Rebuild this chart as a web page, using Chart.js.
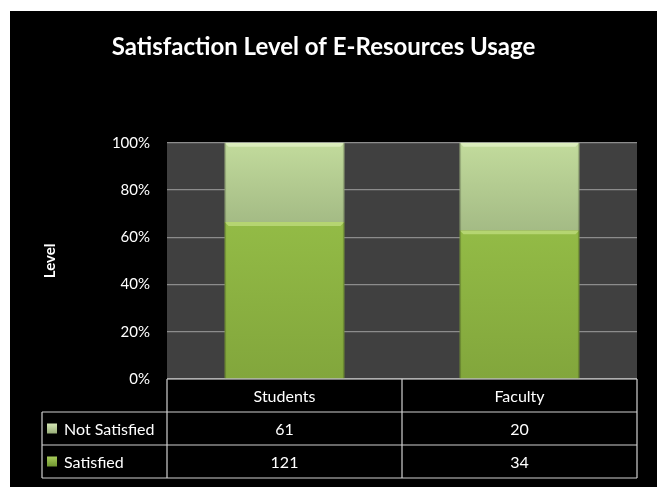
<!DOCTYPE html>
<html>
<head>
<meta charset="utf-8">
<script src="https://cdn.jsdelivr.net/npm/chart.js@4/dist/chart.umd.min.js"></script>
<style>
  html, body { margin: 0; padding: 0; background: #ffffff; }
  #wrap { width: 657px; height: 487px; position: relative; }
</style>
</head>
<body>
<div id="wrap"><canvas id="satChart" width="657" height="487"></canvas></div>
<script>
// dados da tabela
const categories = ['Students', 'Faculty'];
const seriesNames = ['Satisfied', 'Not Satisfied'];
const satisfied = [121, 34];
const notSatisfied = [61, 20];
const yTicks = [0, 20, 40, 60, 80, 100];

// participação percentual de cada série (100% empilhado)
const totals = categories.map((c, i) => satisfied[i] + notSatisfied[i]);
const satisfiedPct = satisfied.map((v, i) => v / totals[i] * 100);
const notSatisfiedPct = notSatisfied.map((v, i) => v / totals[i] * 100);

const FONT = 'Lato, "Open Sans", sans-serif';

function barGradient(context, topColor, bottomColor) {
    const chart = context.chart;
    const area = chart.chartArea;
    if (!area) return bottomColor;
    const y = chart.scales.y;
    const i = context.dataIndex;
    let top, bottom;
    if (context.datasetIndex === 0) {
        top = y.getPixelForValue(satisfiedPct[i]);
        bottom = y.getPixelForValue(0);
    } else {
        top = y.getPixelForValue(100);
        bottom = y.getPixelForValue(satisfiedPct[i]);
    }
    const g = chart.ctx.createLinearGradient(0, top, 0, bottom);
    g.addColorStop(0, topColor);
    g.addColorStop(1, bottomColor);
    return g;
}

// fundo preto e área do gráfico cinza
const backgroundPlugin = {
    id: 'background',
    beforeDraw(chart) {
        const ctx = chart.ctx;
        const a = chart.chartArea;
        ctx.save();
        ctx.fillStyle = '#ffffff';
        ctx.fillRect(0, 0, chart.width, chart.height);
        ctx.fillStyle = '#000000';
        ctx.fillRect(10, 11, chart.width - 10, chart.height - 11);
        ctx.fillStyle = '#404040';
        ctx.fillRect(a.left, a.top, a.right - a.left, a.bottom - a.top);
        ctx.restore();
    }
};

// brilho no topo das barras (efeito chanfrado)
const bevelPlugin = {
    id: 'bevel',
    afterDatasetsDraw(chart) {
        const ctx = chart.ctx;
        ctx.save();
        chart.data.datasets.forEach((ds, di) => {
            chart.getDatasetMeta(di).data.forEach(bar => {
                const left = bar.x - bar.width / 2;
                const right = bar.x + bar.width / 2;
                ctx.fillStyle = di === 0 ? 'rgba(210,235,150,0.55)' : 'rgba(235,248,210,0.6)';
                ctx.beginPath();
                ctx.moveTo(left, bar.y);
                ctx.lineTo(right, bar.y);
                ctx.lineTo(right - 4, bar.y + 4);
                ctx.lineTo(left + 4, bar.y + 4);
                ctx.closePath();
                ctx.fill();
                ctx.fillStyle = 'rgba(0,0,0,0.18)';
                ctx.fillRect(left, bar.y, 1.5, bar.base - bar.y);
                ctx.fillRect(right - 1.5, bar.y, 1.5, bar.base - bar.y);
            });
        });
        ctx.restore();
    }
};

// tabela de dados abaixo do eixo x
const dataTablePlugin = {
    id: 'dataTable',
    afterDraw(chart) {
        const ctx = chart.ctx;
        const a = chart.chartArea;
        const x = chart.scales.x;
        const rowH = 33;
        const tableLeft = 42;
        const rows = [
            { name: seriesNames[1], values: notSatisfied, key: ['#d4e6b5', '#98ae78'] },
            { name: seriesNames[0], values: satisfied, key: ['#a8cc5a', '#6f9530'] }
        ];
        const colW = (a.right - a.left) / categories.length;
        ctx.save();
        ctx.strokeStyle = '#d0d0d0';
        ctx.lineWidth = 1.2;
        // linhas horizontais
        const y0 = a.bottom;
        ctx.beginPath();
        ctx.moveTo(a.left, y0); ctx.lineTo(a.right, y0);
        for (let r = 1; r <= rows.length + 1; r++) {
            ctx.moveTo(tableLeft, y0 + r * rowH);
            ctx.lineTo(a.right, y0 + r * rowH);
        }
        // linhas verticais
        ctx.moveTo(tableLeft, y0 + rowH); ctx.lineTo(tableLeft, y0 + (rows.length + 1) * rowH);
        for (let c = 0; c <= categories.length; c++) {
            ctx.moveTo(a.left + c * colW, y0);
            ctx.lineTo(a.left + c * colW, y0 + (rows.length + 1) * rowH);
        }
        ctx.stroke();

        ctx.fillStyle = '#ffffff';
        ctx.font = '16px ' + FONT;
        ctx.textAlign = 'center';
        ctx.textBaseline = 'middle';
        categories.forEach((cat, i) => {
            const cx = x.getPixelForValue(i);
            ctx.fillText(cat, cx, y0 + rowH / 2 + 1);
            rows.forEach((row, r) => {
                ctx.fillText(String(row.values[i]), cx, y0 + (r + 1.5) * rowH + 1);
            });
        });
        ctx.textAlign = 'left';
        rows.forEach((row, r) => {
            const cy = y0 + (r + 1.5) * rowH;
            const g = ctx.createLinearGradient(0, cy - 5, 0, cy + 5);
            g.addColorStop(0, row.key[0]);
            g.addColorStop(1, row.key[1]);
            ctx.fillStyle = g;
            ctx.fillRect(47, cy - 5, 10, 10);
            ctx.fillStyle = '#ffffff';
            ctx.fillText(row.name, 64, cy + 1);
        });
        ctx.restore();
    }
};

const ctx = document.getElementById('satChart').getContext('2d');
const chart = new Chart(ctx, {
    type: 'bar',
    data: {
        labels: categories,
        datasets: [
            {
                label: seriesNames[0],
                data: satisfiedPct,
                backgroundColor: c => barGradient(c, '#93bb46', '#82a63c'),
                borderWidth: 0,
                categoryPercentage: 1,
                barPercentage: 0.51
            },
            {
                label: seriesNames[1],
                data: notSatisfiedPct,
                backgroundColor: c => barGradient(c, '#c2db9c', '#a4bb85'),
                borderWidth: 0,
                categoryPercentage: 1,
                barPercentage: 0.51
            }
        ]
    },
    options: {
        responsive: false,
        animation: false,
        layout: { padding: { left: 10, right: 20, top: 11, bottom: 108 } },
        scales: {
            x: {
                stacked: true,
                display: false
            },
            y: {
                stacked: true,
                min: 0,
                max: 100,
                afterFit(scale) { scale.width = 157; },
                afterBuildTicks(scale) { scale.ticks = yTicks.map(v => ({ value: v })); },
                border: { display: false },
                grid: {
                    color: '#8c8c8c',
                    lineWidth: 1.2,
                    drawTicks: false
                },
                ticks: {
                    color: '#ffffff',
                    padding: 17,
                    font: { family: FONT, size: 15 },
                    callback: v => v + '%'
                },
                title: {
                    display: true,
                    text: 'Level',
                    color: '#ffffff',
                    padding: { top: 31 },
                    font: { family: FONT, size: 15, weight: 'bold' }
                }
            }
        },
        plugins: {
            legend: { display: false },
            tooltip: { enabled: false },
            title: {
                display: true,
                text: 'Satisfaction Level of E-Resources Usage',
                color: '#ffffff',
                font: { family: FONT, size: 24, weight: 'bold' },
                padding: { top: 22, bottom: 81 }
            }
        }
    },
    plugins: [backgroundPlugin, bevelPlugin, dataTablePlugin]
});
</script>
</body>
</html>
